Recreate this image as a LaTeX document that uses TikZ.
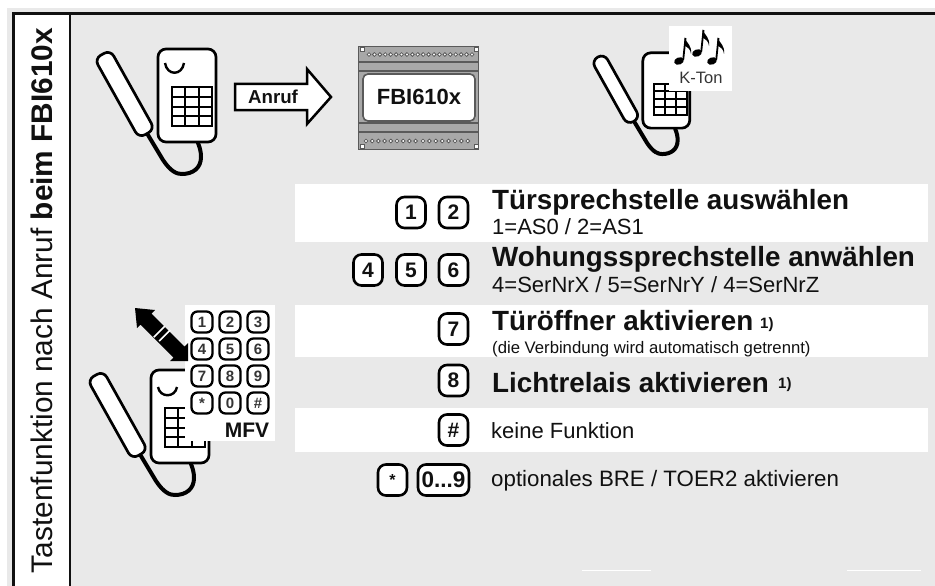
\documentclass[tikz,border=0pt]{standalone}
\usepackage{fontspec}
\setmainfont{Liberation Sans}
\newcommand{\fsz}[1]{\fontsize{#1}{#1}\selectfont}
\definecolor{panelgray}{HTML}{E9E9E9}
\definecolor{modgray}{HTML}{A8A8A8}
\definecolor{moddark}{HTML}{5A5A5A}
\definecolor{ink}{HTML}{111111}
\tikzset{
  band/.style={fill=white,draw=none},
  frameline/.style={draw=ink,line width=2.4pt},
  phoneline/.style={draw=black,line width=2.7pt,fill=white},
  cord/.style={draw=black,line width=4pt,line cap=round},
  gridline/.style={draw=black,line width=2pt},
  bigkey/.style={draw=black,fill=white,line width=2.6pt,rounded corners=8pt,minimum width=29pt,minimum height=31pt,inner sep=0pt,font=\bfseries\fsz{21},text=ink},
  smallkey/.style={draw=black,fill=white,line width=2.3pt,rounded corners=6pt,minimum width=21pt,minimum height=21pt,inner sep=0pt,font=\bfseries\fsz{15},text=ink!85},
  titletext/.style={anchor=base west,inner sep=0pt,font=\bfseries\fsz{27.8},text=ink},
  subtext/.style={anchor=base west,inner sep=0pt,font=\fsz{22},text=ink},
  smalltext/.style={anchor=base west,inner sep=0pt,font=\fsz{16.7},text=ink},
  supertext/.style={anchor=base west,inner sep=0pt,font=\bfseries\fsz{15},text=ink},
  dotmark/.style={draw=moddark,fill=white,line width=.8pt},
}
\newcommand{\phone}[3]{%
  \begin{scope}[shift={(#1,#2)},scale=#3]
    \path[cord] (-9,87) -- (6,112) .. controls (14,124) and (20,126) .. (25,126)
      .. controls (36,126) and (44,120) .. (44,109) .. controls (44,104) and (43,100) .. (41,95);
    \path[phoneline,rounded corners=7pt] (-46.7,1.9) -- (-62.5,10.7) -- (-18.1,90.1) -- (-2.3,81.3) -- cycle;
    \path[phoneline,rounded corners=8pt] (1,1) rectangle (59,94);
    \path[gridline] (15,39) rectangle (55,78);
    \foreach \gx in {28.3,41.7} {\path[gridline] (\gx,39) -- (\gx,78);}
    \foreach \gy in {48.75,58.5,68.25} {\path[gridline] (15,\gy) -- (55,\gy);}
  \end{scope}}
\newcommand{\musicnote}[2]{%
  \begin{scope}[shift={(#1,#2)}]
    \fill[black,rotate=20] (0,0) ellipse (5pt and 3.6pt);
    \draw[black,line width=1.8pt] (4.2,-1) -- (6.5,-23);
    \fill[black] (5.6,-23.5) .. controls (8,-17) and (13,-16) .. (12,-7)
      .. controls (11.5,-12) and (8.5,-14) .. (5.6,-15.5) -- cycle;
  \end{scope}}
\begin{document}
\begin{tikzpicture}[x=1pt,y=-1pt]
\useasboundingbox (0,0) rectangle (935,586);
\fill[white] (0,0) rectangle (935,586);
\fill[panelgray] (7,8) rectangle (935,586);
\fill[white] (13.5,13.5) rectangle (70,586);
\path[frameline] (13.5,586) -- (13.5,13.5) -- (935,13.5);
\path[frameline] (70,13.5) -- (70,586);
\node[rotate=90,anchor=base,inner sep=0pt,font=\fsz{29.8},text=ink] (sidetitle) at (52,300.5) {Tastenfunktion nach Anruf \textbf{beim FBI610x}};

% bands
\path[band] (295,184) rectangle (928,242);
\path[band] (295,305) rectangle (928,357);
\path[band] (295,408) rectangle (928,452);
\path[band] (582,569.5) rectangle (651,570.5);
\path[band] (847,569.5) rectangle (921,570.5);

% top-left phone
\phone{157}{48}{1}
\draw[black,line width=2.4pt] (165,63) .. controls (167,76) and (182,76) .. (184,63);

% arrow
\path[draw=black,line width=2.5pt,fill=white] (235,84) -- (307,84) -- (307,69) -- (331,97) -- (307,124) -- (307,110) -- (235,110) -- cycle;
\node[inner sep=0pt,font=\bfseries\fsz{18.7},text=ink] (anruf) at (273,97) {Anruf};

% module
\path[draw=moddark,fill=modgray,line width=1.2pt] (358.5,46.5) rectangle (478.5,149.5);
\foreach \ly in {62,71,123,132} {\draw[moddark,line width=1.2pt] (358.5,\ly) -- (478.5,\ly);}
\path[draw=moddark,fill=white,line width=1.6pt,rounded corners=5pt] (363,74) rectangle (475,121);
\node[inner sep=0pt,font=\bfseries\fsz{22},text=ink] (fbi) at (419,97) {FBI610x};
\foreach \i in {0,...,19} {\path[dotmark] ({369+\i*5.42},54.5) circle (1.9pt);}
\foreach \i in {0,...,8} {\path[dotmark] ({366+\i*6.2},141) circle (1.9pt);}
\foreach \i in {0,...,7} {\path[dotmark] ({423+\i*6.4},141) circle (1.9pt);}
\foreach \sx/\sy in {362/49,476/49,362/146,476/146} {\path[draw=moddark,fill=white,line width=.8pt] (\sx-2,\sy-2) rectangle (\sx+2,\sy+2);}

% top-right phone
\phone{642}{52}{0.81}
\fill[white] (669,26) rectangle (732,91);
\musicnote{679}{61}
\musicnote{697}{53}
\musicnote{712}{61}
\node[inner sep=0pt,font=\fsz{16.5},text=ink!85] (kton) at (701,78) {K-Ton};

% lower-left phone
\phone{150}{369}{1}
\draw[black,line width=2.4pt] (158,387) .. controls (160,398) and (175,398) .. (177,387);
\fill[white] (185,305) rectangle (275,441);
\fill[black] (135,308) -- (155,310) -- (151.5,313.5) -- (184.5,346.5) -- (188,343) -- (188,361) -- (170,361) -- (173.5,357.5) -- (140.5,324.5) -- (137,328) -- cycle;
\draw[white,line width=1.6pt] (153.8,337.2) -- (164.8,326.2);
\draw[white,line width=1.6pt] (159.2,341) -- (170.2,330);

% keypad
\foreach \kname/\ktext/\kx/\ky in {a/1/202/322,b/2/230/322,c/3/258/322,d/4/202/349,e/5/230/349,f/6/258/349,g/7/202/376,h/8/230/376,i/9/258/376,j/*/202/403,k/0/230/403,l/\#/258/403}
  {\node[smallkey] (pad\kname) at (\kx,\ky) {\ktext};}
\node[inner sep=0pt,font=\bfseries\fsz{21},text=ink] (mfv) at (247,430) {MFV};

% key rows
\node[bigkey] (k1) at (411,212.5) {1};
\node[bigkey] (k2) at (453.5,212.5) {2};
\node[bigkey] (k4) at (368,270) {4};
\node[bigkey] (k5) at (411,270) {5};
\node[bigkey] (k6) at (453.5,270) {6};
\node[bigkey] (k7) at (453.5,329) {7};
\node[bigkey] (k8) at (453.5,380.5) {8};
\node[bigkey] (khash) at (453.5,430) {\#};
\node[bigkey,font=\bfseries\fsz{16}] (kstar) at (392.5,480) {*};
\node[bigkey,minimum width=51pt,font=\bfseries\fsz{22.5}] (krange) at (443.5,480) {0...9};

% texts
\node[titletext] (t1) at (492,209) {Türsprechstelle auswählen};
\node[subtext] (s1) at (492,234) {1=AS0 / 2=AS1};
\node[titletext] (t2) at (492,266) {Wohungssprechstelle anwählen};
\node[subtext] (s2) at (492,292) {4=SerNrX / 5=SerNrY / 4=SerNrZ};
\node[titletext] (t3) at (492,330) {Türöffner aktivieren};
\node[supertext] (r3) at (760,328) {1)};
\node[smalltext] (s3) at (492,353) {(die Verbindung wird automatisch getrennt)};
\node[titletext] (t4) at (492,392) {Lichtrelais aktivieren};
\node[supertext] (r4) at (778,388) {1)};
\node[subtext] (t5) at (491,438) {keine Funktion};
\node[subtext,font=\fsz{22.3}] (t6) at (491,486) {optionales BRE / TOER2 aktivieren};
\end{tikzpicture}
\end{document}
